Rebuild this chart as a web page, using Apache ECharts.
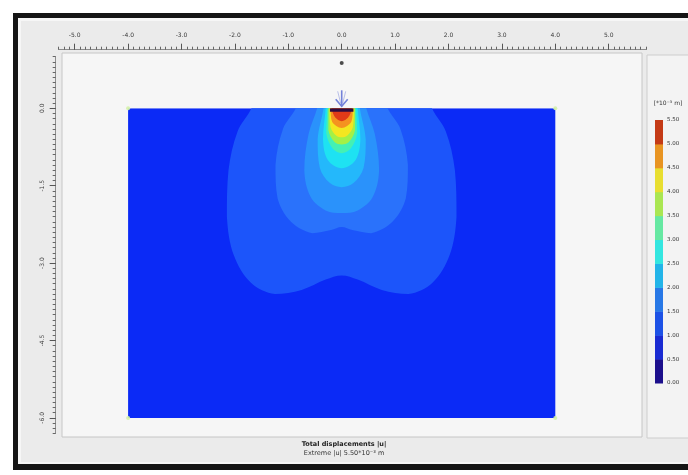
<!DOCTYPE html>
<html>
<head>
<meta charset="utf-8">
<script src="https://cdn.jsdelivr.net/npm/echarts@6/dist/echarts.min.js"></script>
<style>
  html, body { margin: 0; padding: 0; background: #ffffff; }
  #chart { width: 688px; height: 475px; }
</style>
</head>
<body>
<div id="chart"></div>
<script>
// ---- Ruler tick labels (m) ----
const xRulerLabels = [-5, -4, -3, -2, -1, 0, 1, 2, 3, 4, 5];
const yRulerLabels = [0, -1.5, -3, -4.5, -6];

// ---- Model geometry (m) ----
const modelX = [-4, 4];
const modelY = [-6, 0];
const footingX = [-0.22, 0.22];
const loadX = 0;
const pointA = [0, 0.88];

// ---- Legend levels, total displacement |u| [*10^-3 m] ----
const legendLevels = [0, 0.5, 1.0, 1.5, 2.0, 2.5, 3.0, 3.5, 4.0, 4.5, 5.0, 5.5];
const extremeU = 5.50;

// ---- Contour lines (right half, [x, y] in m); the field is symmetric about x = 0 ----
const contourLevels = [0.5, 1.0, 1.5, 2.0, 2.5, 3.0, 3.5, 4.0, 4.5, 5.0];
const contour050 = [[1.69, 0], [1.95, -0.45], [2.12, -1.2], [2.15, -2.1], [2.02, -2.85], [1.7, -3.38], [1.25, -3.6], [0.75, -3.52], [0.3, -3.32], [0, -3.24]];
const contour100 = [[0.86, 0], [1.1, -0.4], [1.24, -1.1], [1.2, -1.75], [0.95, -2.2], [0.55, -2.42], [0.2, -2.36], [0, -2.3]];
const contour150 = [[0.46, 0], [0.62, -0.5], [0.7, -1.2], [0.58, -1.72], [0.3, -1.98], [0, -2.03]];
const contour200 = [[0.34, 0], [0.45, -0.6], [0.41, -1.15], [0.22, -1.45], [0, -1.53]];
const contour250 = [[0.3, 0], [0.35, -0.6], [0.26, -1.0], [0, -1.16]];
const contour300 = [[0.27, 0], [0.29, -0.48], [0.17, -0.78], [0, -0.87]];
const contour350 = [[0.25, 0], [0.25, -0.42], [0.13, -0.66], [0, -0.7]];
const contour400 = [[0.23, 0], [0.21, -0.36], [0.1, -0.53], [0, -0.56]];
const contour450 = [[0.21, 0], [0.18, -0.26], [0, -0.38]];
const contour500 = [[0.19, 0], [0.12, -0.18], [0, -0.25]];
const contours = [contour050, contour100, contour150, contour200, contour250,
                  contour300, contour350, contour400, contour450, contour500];

// Fill colours: index 0 is the region below the first contour level
const bandColors = ['#0b2af6', '#1c55fa', '#2a72fb', '#2a92fb', '#24b8fb', '#1ee2f2',
                    '#44f0b4', '#a4f046', '#f4e620', '#f59220', '#e03a18'];
const legendColors = ['#1c0f8c', '#1a2bd2', '#1d52e6', '#2878e6', '#22b4e8', '#34e6e0',
                      '#66e8a2', '#aae652', '#e8de30', '#e89422', '#c43a16'];

// ---- Drawing scale (px per metre) and origin position ----
const PX_X = 53.4, PX_Y = 51.6, ORIGIN_X = 341.7, ORIGIN_Y = 108.3;
const rulerX = [-5.3, 5.7];
const rulerY = [-6.3, 1.0];

function gridFor(xr, yr) {
  return {
    left: ORIGIN_X + xr[0] * PX_X,
    width: (xr[1] - xr[0]) * PX_X,
    top: ORIGIN_Y - yr[1] * PX_Y,
    height: (yr[1] - yr[0]) * PX_Y,
    containLabel: false
  };
}

function steps(a, b, d) {
  const out = [];
  const n = Math.round((b - a) / d);
  for (let i = 0; i <= n; i++) out.push(Math.round((a + i * d) * 1000) / 1000);
  return out;
}
const minorX = steps(rulerX[0], rulerX[1], 0.1);
const minorY = steps(rulerY[0], rulerY[1], 0.1);

const font = 'DejaVu Sans';
const rulerText = { fontFamily: font, fontSize: 6, color: '#3a3a3a' };

function bbox(points) {
  const xs = points.map(p => p[0]), ys = points.map(p => p[1]);
  return [[Math.min(...xs), Math.min(...ys)], [Math.max(...xs), Math.max(...ys)]];
}

const chart = echarts.init(document.getElementById('chart'), null, { renderer: 'canvas' });

const option = {
  animation: false,
  backgroundColor: '#ffffff',
  graphic: [
    { type: 'rect', z: -10, shape: { x: 13, y: 13, width: 700, height: 457 }, style: { fill: '#151515' } },
    { type: 'rect', z: -10, shape: { x: 18, y: 18, width: 700, height: 446 }, style: { fill: '#f6f6f6' } },
    { type: 'rect', z: -10, shape: { x: 21, y: 21, width: 700, height: 441 }, style: { fill: '#ebebeb' } },
    { type: 'rect', z: -10, shape: { x: 62, y: 53, width: 580, height: 384 }, style: { fill: '#f6f6f6', stroke: '#c6c6c6', lineWidth: 1 } },
    { type: 'rect', z: -10, shape: { x: 647, y: 55, width: 50, height: 383 }, style: { fill: '#f3f3f3', stroke: '#cdcdcd', lineWidth: 1 } },
    { type: 'text', z: 5, style: { text: '[*10\u207B\u00B3 m]', x: 668, y: 103, align: 'center', verticalAlign: 'middle', fontFamily: font, fontSize: 6, fill: '#333' } }
  ],
  title: {
    text: 'Total displacements |u|',
    subtext: 'Extreme |u| ' + extremeU.toFixed(2) + '*10\u207B\u00B3 m',
    left: 'center',
    top: 441,
    itemGap: 2,
    padding: 0,
    textStyle: { fontFamily: font, fontSize: 6.5, fontWeight: 'bold', color: '#222' },
    subtextStyle: { fontFamily: font, fontSize: 6.5, color: '#333' }
  },
  grid: [
    gridFor(rulerX, rulerY),
    gridFor(modelX, modelY),
    { left: 655, width: 8, top: 120, height: 263 }
  ],
  xAxis: [
    { gridIndex: 0, type: 'value', position: 'top', offset: 7, min: rulerX[0], max: rulerX[1],
      axisLine: { show: true, onZero: false, lineStyle: { color: '#8c8c8c' } },
      axisTick: { show: true, customValues: minorX, length: 3, lineStyle: { color: '#666' } },
      axisLabel: { show: false }, splitLine: { show: false } },
    { gridIndex: 0, type: 'value', position: 'top', offset: 7, min: rulerX[0], max: rulerX[1],
      axisLine: { show: false, onZero: false },
      axisTick: { show: true, customValues: xRulerLabels, length: 6, lineStyle: { color: '#555' } },
      axisLabel: { show: true, customValues: xRulerLabels, margin: 11, formatter: v => v.toFixed(1), ...rulerText },
      splitLine: { show: false } },
    { gridIndex: 1, type: 'value', min: modelX[0], max: modelX[1], show: false },
    { gridIndex: 2, type: 'value', min: 0, max: 1, show: false }
  ],
  yAxis: [
    { gridIndex: 0, type: 'value', position: 'left', offset: 3, min: rulerY[0], max: rulerY[1],
      axisLine: { show: true, onZero: false, lineStyle: { color: '#8c8c8c' } },
      axisTick: { show: true, customValues: minorY, length: 3, lineStyle: { color: '#666' } },
      axisLabel: { show: false }, splitLine: { show: false } },
    { gridIndex: 0, type: 'value', position: 'left', offset: 3, min: rulerY[0], max: rulerY[1],
      axisLine: { show: false, onZero: false },
      axisTick: { show: true, customValues: yRulerLabels, length: 6, lineStyle: { color: '#555' } },
      axisLabel: { show: true, customValues: yRulerLabels, margin: 10, rotate: 90, formatter: v => v.toFixed(1), ...rulerText },
      splitLine: { show: false } },
    { gridIndex: 1, type: 'value', min: modelY[0], max: modelY[1], show: false },
    { gridIndex: 2, type: 'value', position: 'right', min: legendLevels[0], max: legendLevels[legendLevels.length - 1],
      axisLine: { show: false }, axisTick: { show: false }, splitLine: { show: false },
      axisLabel: { show: true, customValues: legendLevels, margin: 4, formatter: v => v.toFixed(2),
                   fontFamily: font, fontSize: 5.5, color: '#333' } }
  ],
  series: [
    // model area, coloured with the lowest band
    { type: 'custom', xAxisIndex: 2, yAxisIndex: 2, clip: true, silent: true,
      data: [[modelX[0], modelY[0], modelX[1], modelY[1]]],
      renderItem: (params, api) => {
        const a = api.coord([api.value(0), api.value(3)]);
        const b = api.coord([api.value(2), api.value(1)]);
        return { type: 'rect', shape: { x: a[0], y: a[1], width: b[0] - a[0], height: b[1] - a[1] },
                 style: { fill: bandColors[0] } };
      } },
    // contour bands, drawn from the outermost level inwards
    { type: 'custom', xAxisIndex: 2, yAxisIndex: 2, clip: true, silent: true,
      data: contourLevels.map((lv, i) => [i, lv]),
      renderItem: (params, api) => {
        const i = params.dataIndex;
        const right = contours[i];
        const left = right.slice().reverse().map(p => [-p[0], p[1]]).slice(1);
        const top = 0.15;
        const pts = [[right[0][0], top]].concat(right, left, [[-right[0][0], top]]);
        const px = pts.map(p => api.coord(p));
        return { type: 'polygon',
                 shape: { points: px, smooth: 0.35, smoothConstraint: bbox(px) },
                 style: { fill: bandColors[i + 1] } };
      } },
    // footing plate
    { type: 'custom', xAxisIndex: 2, yAxisIndex: 2, clip: true, silent: true,
      data: [[footingX[0], footingX[1]]],
      renderItem: (params, api) => {
        const a = api.coord([api.value(0), 0]);
        const b = api.coord([api.value(1), 0]);
        return { type: 'rect', shape: { x: a[0], y: a[1], width: b[0] - a[0], height: 3.5 },
                 style: { fill: '#2e0c40' } };
      } },
    // geometry points at the model corners
    { type: 'scatter', xAxisIndex: 0, yAxisIndex: 0, silent: true, symbolSize: 4,
      itemStyle: { color: '#d4f2a8', opacity: 0.9 },
      data: [[modelX[0], modelY[0]], [modelX[1], modelY[0]], [modelX[0], modelY[1]], [modelX[1], modelY[1]]] },
    // point load arrow
    { type: 'custom', xAxisIndex: 0, yAxisIndex: 0, silent: true,
      data: [[loadX, 0]],
      renderItem: (params, api) => {
        const p = api.coord([api.value(0), api.value(1)]);
        const c = '#7381d9';
        return { type: 'group', children: [
          { type: 'line', shape: { x1: p[0], y1: p[1] - 18, x2: p[0], y2: p[1] - 2 }, style: { stroke: c, lineWidth: 1.6 } },
          { type: 'line', shape: { x1: p[0] - 4, y1: p[1] - 17, x2: p[0] - 1, y2: p[1] - 5 }, style: { stroke: c, lineWidth: 0.8, opacity: 0.6 } },
          { type: 'line', shape: { x1: p[0] + 4, y1: p[1] - 17, x2: p[0] + 1, y2: p[1] - 5 }, style: { stroke: c, lineWidth: 0.8, opacity: 0.6 } },
          { type: 'polyline', shape: { points: [[p[0] - 6, p[1] - 9], [p[0], p[1] - 2], [p[0] + 6, p[1] - 9]] },
            style: { stroke: c, lineWidth: 1.6, fill: null } }
        ] };
      } },
    // reference point marker
    { type: 'scatter', xAxisIndex: 0, yAxisIndex: 0, silent: true, symbolSize: 4,
      itemStyle: { color: '#222' }, data: [pointA] },
    // colour legend bands
    { type: 'custom', xAxisIndex: 3, yAxisIndex: 3, silent: true,
      data: legendLevels.slice(0, -1).map((lv, i) => [lv, legendLevels[i + 1]]),
      renderItem: (params, api) => {
        const a = api.coord([0, api.value(1)]);
        const b = api.coord([1, api.value(0)]);
        return { type: 'rect', shape: { x: a[0], y: a[1], width: b[0] - a[0], height: b[1] - a[1] + 0.5 },
                 style: { fill: legendColors[params.dataIndex] } };
      } }
  ]
};

chart.setOption(option);
</script>
</body>
</html>
